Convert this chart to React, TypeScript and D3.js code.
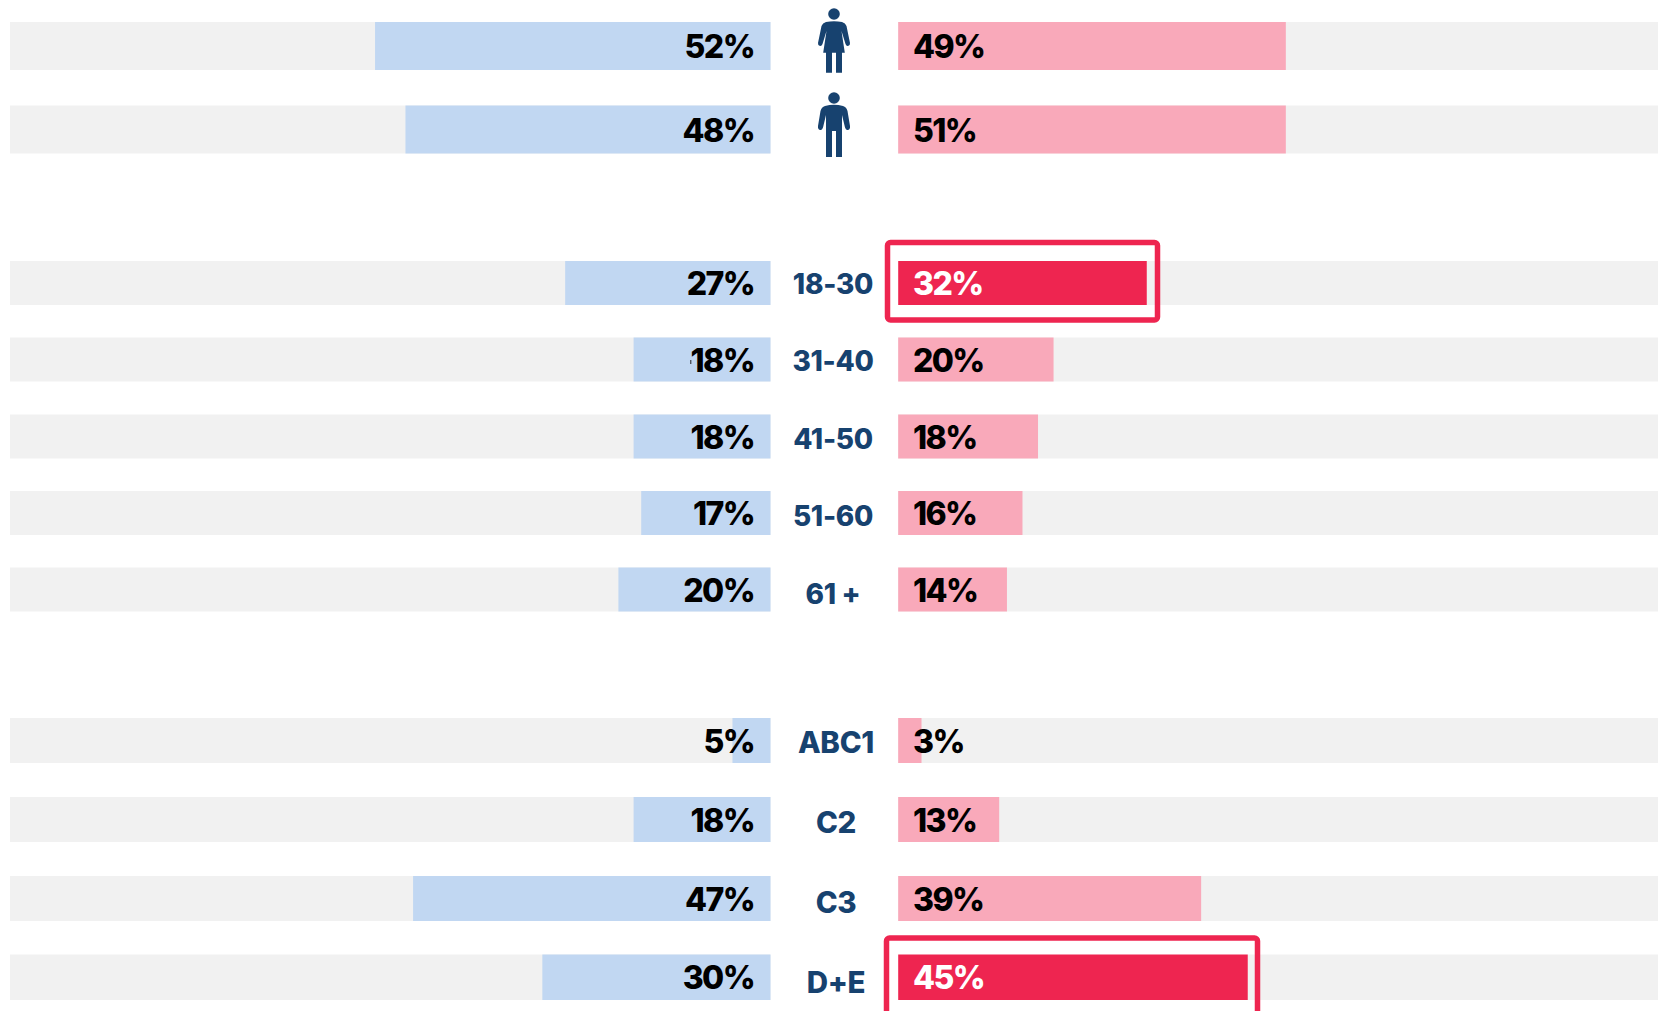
import React from "react";
import * as d3 from "d3";

const rowIds = ["female", "male", "18-30", "31-40", "41-50", "51-60", "61 +", "ABC1", "C2", "C3", "D+E"];
const categoryLabels = ["", "", "18-30", "31-40", "41-50", "51-60", "61 +", "ABC1", "C2", "C3", "D+E"];
const leftValues = [52, 48, 27, 18, 18, 17, 20, 5, 18, 47, 30];
const rightBarValues = [49.9, 49.9, 32, 20, 18, 16, 14, 3, 13, 39, 45];
const rightLabels = [49, 51, 32, 20, 18, 16, 14, 3, 13, 39, 45];
const highlighted = ["18-30", "D+E"];

const rowTops = [22, 105.5, 261, 337.5, 414.5, 491, 567.5, 718, 797, 876, 954.5];
const rowHeights = [48, 48, 44, 44, 44, 44, 44, 45, 45, 45, 45.5];
const labelBaselines = [0, 0, 293.5, 371, 449, 526, 604, 753, 832.7, 912.7, 992.7];
const labelCenters = [0, 0, 833, 833, 833, 833, 833, 836, 836, 836, 836];
const labelSizes = [0, 0, 28, 28, 28, 28, 28, 29.5, 29.5, 29.5, 29.5];
const boxes = [
  { id: "18-30", x: 887.5, y: 242.5, w: 270, h: 77.5 },
  { id: "D+E", x: 886.5, y: 938, w: 371, h: 90 },
];

const FONT = "Inter, 'Noto Sans', sans-serif";
const NAVY = "#17426f";
const RED = "#ee2550";
const PINK = "#f9a9ba";
const BLUE = "#c1d7f2";
const GREY = "#f1f1f1";

const x1 = d3.scaleLinear().domain([0, 100]).range([770.5, 10]);
const x2 = d3.scaleLinear().domain([0, 100]).range([898.2, 1675]);

function Female() {
  return (
    <g fill={NAVY} transform="translate(834,0)">
      <circle cx={0} cy={14} r={5.8} />
      <path d="M-8,22 Q0,20.5 8,22 Q11.5,23 12.5,26 L16,43 Q16.3,45.5 14,46 Q12.3,46.3 11.5,44 L7.5,31 L10.8,52.7 L8,52.7 L8,72.7 L2,72.7 L2,52.7 L-2,52.7 L-2,72.7 L-8,72.7 L-8,52.7 L-10.8,52.7 L-7.5,31 L-11.5,44 Q-12.3,46.3 -14,46 Q-16.3,45.5 -16,43 L-12.5,26 Q-11.5,23 -8,22 Z" />
    </g>
  );
}

function Male() {
  return (
    <g fill={NAVY} transform="translate(834,0)">
      <circle cx={0} cy={98} r={5.8} />
      <path d="M-9,106 Q0,103.5 9,106 Q12.5,107 13.5,111 L16,126 Q16.5,129 14,130 Q12,130.5 11,127.5 L8,115 L8,157 L2,157 L2,131 L-2,131 L-2,157 L-8,157 L-8,115 L-11,127.5 Q-12,130.5 -14,130 Q-16.5,129 -16,126 L-13.5,111 Q-12.5,107 -9,106 Z" />
    </g>
  );
}

export default function App() {
  return (
    <svg
      width={1658}
      height={1011}
      viewBox="0 0 1658 1011"
      style={{ position: "fixed", left: 0, top: 0, background: "#fff", display: "block" }}
      fontFamily={FONT}
    >
      {rowIds.map((id, i) => {
        const hot = highlighted.includes(id);
        const y = rowTops[i];
        const h = rowHeights[i];
        const base = y + h / 2 + 12;
        return (
          <g key={id}>
            <rect x={x1(100)} y={y} width={x1(0) - x1(100)} height={h} fill={GREY} />
            <rect x={x1(leftValues[i])} y={y} width={x1(0) - x1(leftValues[i])} height={h} fill={BLUE} />
            {!hot && <rect x={x2(0)} y={y} width={x2(100) - x2(0)} height={h} fill={GREY} />}
            {hot && <rect x={x2(rightBarValues[i])} y={y} width={x2(100) - x2(rightBarValues[i])} height={h} fill={GREY} />}
            <rect x={x2(0)} y={y} width={x2(rightBarValues[i]) - x2(0)} height={h} fill={hot ? RED : PINK} />
            <text x={754} y={base} textAnchor="end" fontSize={32} fontWeight={800} letterSpacing={-1.6} fill="#000">
              {leftValues[i]}%
            </text>
            <text x={913} y={base} fontSize={32} fontWeight={800} letterSpacing={-1.6} fill={hot ? "#fff" : "#000"}>
              {rightLabels[i]}%
            </text>
            {categoryLabels[i] && (
              <text x={labelCenters[i]} y={labelBaselines[i]} textAnchor="middle" fontSize={labelSizes[i]} fontWeight={800} letterSpacing={-0.3} fill={NAVY}>
                {categoryLabels[i]}
              </text>
            )}
          </g>
        );
      })}
      {boxes.map((b) => (
        <rect key={b.id} x={b.x} y={b.y} width={b.w} height={b.h} rx={3} fill="none" stroke={RED} strokeWidth={5.5} />
      ))}
      <rect x={690.3} y={360} width={1} height={4} fill="#222" />
      <Female />
      <Male />
    </svg>
  );
}
